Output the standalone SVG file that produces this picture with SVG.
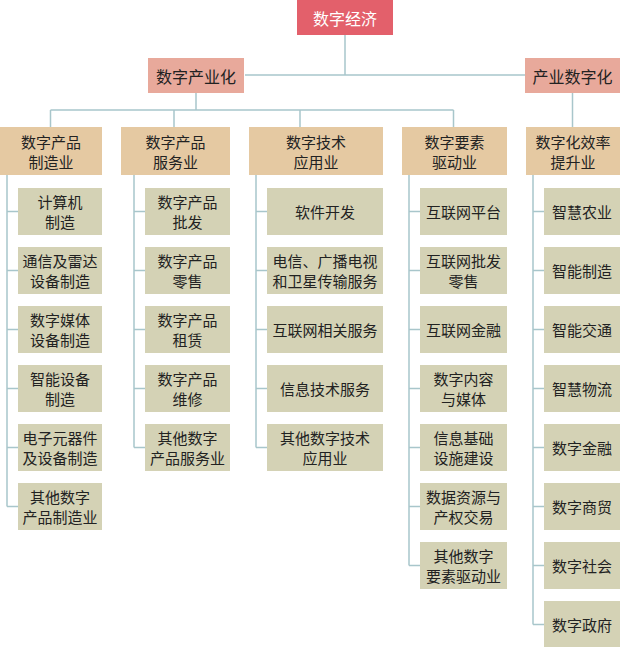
<svg xmlns="http://www.w3.org/2000/svg" width="620" height="647" viewBox="0 0 620 647">
<style>
text{font-family:"Noto Sans CJK SC","Noto Sans",sans-serif;font-size:15px;fill:#222;text-anchor:middle;dominant-baseline:central}
.root{fill:#e3606b}
.l1{fill:#e8a99b}
.hd{fill:#e5c9a2}
.it{fill:#d4d2b5}
.w{fill:#fff;font-size:16px}
.big{font-size:16px}
#connectors path{fill:none;stroke:#a8c6cb;stroke-width:1.5}
</style>
<rect width="620" height="647" fill="#fff"/>
<g id="connectors">
<path d="M345,35V75M245,75H525"/>
<path d="M196,93V110M50.5,110H453.5M50.5,110V127M174,110V127M300,110V127M453.5,110V127"/>
<path d="M572.5,93V127"/>
<path d="M7,175V506.5M7,211.5H18M7,270.5H18M7,329.5H18M7,388.5H18M7,447.5H18M7,506.5H18"/>
<path d="M134,175V447.5M134,211.5H145M134,270.5H145M134,329.5H145M134,388.5H145M134,447.5H145"/>
<path d="M256,175V447.5M256,211.5H267M256,270.5H267M256,329.5H267M256,388.5H267M256,447.5H267"/>
<path d="M409,175V565.5M409,211.5H420M409,270.5H420M409,329.5H420M409,388.5H420M409,447.5H420M409,506.5H420M409,565.5H420"/>
<path d="M533,175V624.5M533,211.5H544M533,270.5H544M533,329.5H544M533,388.5H544M533,447.5H544M533,506.5H544M533,565.5H544M533,624.5H544"/>
</g>
<g id="n-root"><rect class="root" x="297" y="0" width="96" height="35"/><text class="w" x="345" y="17.5">数字经济</text></g>
<g id="n-szcyh"><rect class="l1" x="148" y="58" width="96" height="35"/><text class="big" x="196" y="75.5">数字产业化</text></g>
<g id="n-cyszh"><rect class="l1" x="525" y="58" width="95" height="35"/><text class="big" x="572.5" y="75.5">产业数字化</text></g>

<g id="h1"><rect class="hd" x="0" y="127" width="102" height="48"/><text x="51" y="141">数字产品</text><text x="51" y="161">制造业</text></g>
<g id="h2"><rect class="hd" x="121" y="127" width="109" height="48"/><text x="175.5" y="141">数字产品</text><text x="175.5" y="161">服务业</text></g>
<g id="h3"><rect class="hd" x="249" y="127" width="134" height="48"/><text x="316" y="141">数字技术</text><text x="316" y="161">应用业</text></g>
<g id="h4"><rect class="hd" x="402" y="127" width="105" height="48"/><text x="454.5" y="141">数字要素</text><text x="454.5" y="161">驱动业</text></g>
<g id="h5"><rect class="hd" x="526" y="127" width="94" height="48"/><text x="573" y="141">数字化效率</text><text x="573" y="161">提升业</text></g>

<g id="c1-1"><rect class="it" x="18" y="188" width="84" height="47"/><text x="60" y="201.5">计算机</text><text x="60" y="221.5">制造</text></g>
<g id="c1-2"><rect class="it" x="18" y="247" width="84" height="47"/><text x="60" y="260.5">通信及雷达</text><text x="60" y="280.5">设备制造</text></g>
<g id="c1-3"><rect class="it" x="18" y="306" width="84" height="47"/><text x="60" y="319.5">数字媒体</text><text x="60" y="339.5">设备制造</text></g>
<g id="c1-4"><rect class="it" x="18" y="365" width="84" height="47"/><text x="60" y="378.5">智能设备</text><text x="60" y="398.5">制造</text></g>
<g id="c1-5"><rect class="it" x="18" y="424" width="84" height="47"/><text x="60" y="437.5">电子元器件</text><text x="60" y="457.5">及设备制造</text></g>
<g id="c1-6"><rect class="it" x="18" y="483" width="84" height="47"/><text x="60" y="496.5">其他数字</text><text x="60" y="516.5">产品制造业</text></g>

<g id="c2-1"><rect class="it" x="145" y="188" width="85" height="47"/><text x="187.5" y="201.5">数字产品</text><text x="187.5" y="221.5">批发</text></g>
<g id="c2-2"><rect class="it" x="145" y="247" width="85" height="47"/><text x="187.5" y="260.5">数字产品</text><text x="187.5" y="280.5">零售</text></g>
<g id="c2-3"><rect class="it" x="145" y="306" width="85" height="47"/><text x="187.5" y="319.5">数字产品</text><text x="187.5" y="339.5">租赁</text></g>
<g id="c2-4"><rect class="it" x="145" y="365" width="85" height="47"/><text x="187.5" y="378.5">数字产品</text><text x="187.5" y="398.5">维修</text></g>
<g id="c2-5"><rect class="it" x="145" y="424" width="85" height="47"/><text x="187.5" y="437.5">其他数字</text><text x="187.5" y="457.5">产品服务业</text></g>

<g id="c3-1"><rect class="it" x="267" y="188" width="116" height="47"/><text x="325" y="211.5">软件开发</text></g>
<g id="c3-2"><rect class="it" x="267" y="247" width="116" height="47"/><text x="325" y="260.5">电信、广播电视</text><text x="325" y="280.5">和卫星传输服务</text></g>
<g id="c3-3"><rect class="it" x="267" y="306" width="116" height="47"/><text x="325" y="329.5">互联网相关服务</text></g>
<g id="c3-4"><rect class="it" x="267" y="365" width="116" height="47"/><text x="325" y="388.5">信息技术服务</text></g>
<g id="c3-5"><rect class="it" x="267" y="424" width="116" height="47"/><text x="325" y="437.5">其他数字技术</text><text x="325" y="457.5">应用业</text></g>

<g id="c4-1"><rect class="it" x="420" y="188" width="87" height="47"/><text x="463.5" y="211.5">互联网平台</text></g>
<g id="c4-2"><rect class="it" x="420" y="247" width="87" height="47"/><text x="463.5" y="260.5">互联网批发</text><text x="463.5" y="280.5">零售</text></g>
<g id="c4-3"><rect class="it" x="420" y="306" width="87" height="47"/><text x="463.5" y="329.5">互联网金融</text></g>
<g id="c4-4"><rect class="it" x="420" y="365" width="87" height="47"/><text x="463.5" y="378.5">数字内容</text><text x="463.5" y="398.5">与媒体</text></g>
<g id="c4-5"><rect class="it" x="420" y="424" width="87" height="47"/><text x="463.5" y="437.5">信息基础</text><text x="463.5" y="457.5">设施建设</text></g>
<g id="c4-6"><rect class="it" x="420" y="483" width="87" height="47"/><text x="463.5" y="496.5">数据资源与</text><text x="463.5" y="516.5">产权交易</text></g>
<g id="c4-7"><rect class="it" x="420" y="542" width="87" height="47"/><text x="463.5" y="555.5">其他数字</text><text x="463.5" y="575.5">要素驱动业</text></g>

<g id="c5-1"><rect class="it" x="544" y="188" width="76" height="47"/><text x="582" y="211.5">智慧农业</text></g>
<g id="c5-2"><rect class="it" x="544" y="247" width="76" height="47"/><text x="582" y="270.5">智能制造</text></g>
<g id="c5-3"><rect class="it" x="544" y="306" width="76" height="47"/><text x="582" y="329.5">智能交通</text></g>
<g id="c5-4"><rect class="it" x="544" y="365" width="76" height="47"/><text x="582" y="388.5">智慧物流</text></g>
<g id="c5-5"><rect class="it" x="544" y="424" width="76" height="47"/><text x="582" y="447.5">数字金融</text></g>
<g id="c5-6"><rect class="it" x="544" y="483" width="76" height="47"/><text x="582" y="506.5">数字商贸</text></g>
<g id="c5-7"><rect class="it" x="544" y="542" width="76" height="47"/><text x="582" y="565.5">数字社会</text></g>
<g id="c5-8"><rect class="it" x="544" y="601" width="76" height="46"/><text x="582" y="624.5">数字政府</text></g>
</svg>
